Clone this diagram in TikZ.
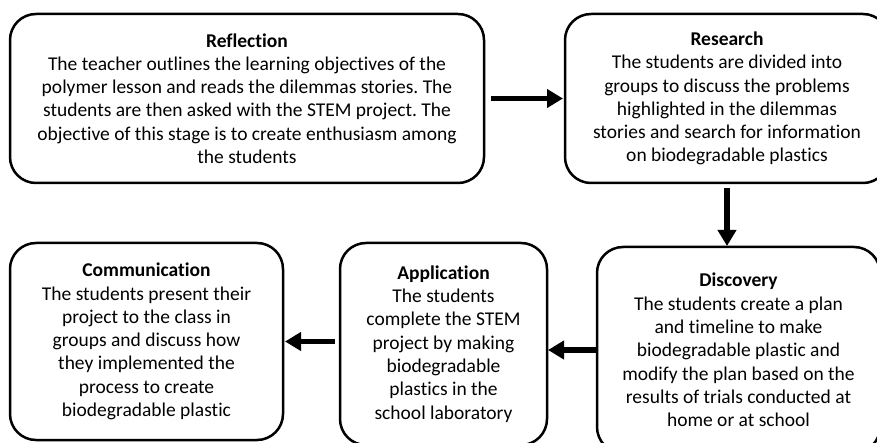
\documentclass[tikz,border=0pt]{standalone}
\usepackage{fontspec}
\setmainfont[Ligatures=NoCommon]{Carlito}
\frenchspacing
\usetikzlibrary{arrows.meta}
\begin{document}
\begin{tikzpicture}[x=1pt,y=-1pt,
  stage/.style={draw=black, fill=white, line width=2.5pt, rounded corners=26pt, inner sep=0pt, outer sep=0pt,
    align=center, text=black, font=\fontsize{19.5}{23.3}\selectfont},
  flow/.style={draw=black, line width=5.5pt, -{Triangle[length=16pt,width=18pt]}}]
\useasboundingbox (0,0) rectangle (877,443);
\fill[white] (0,0) rectangle (877,443);
\begin{scope}
\clip (0,0) rectangle (877,443);
\node[stage, minimum width=474pt, minimum height=169pt] (refl) at (247,98.5)
  {\textbf{Reflection}\\The teacher outlines the learning objectives of the\\polymer lesson and reads the dilemmas stories. The\\students are then asked with the STEM project. The\\objective of this stage is to create enthusiasm among\\the students};
\node[stage, minimum width=324pt, minimum height=169pt] (res) at (727,98.5)
  {\textbf{Research}\\The students are divided into\\groups to discuss the problems\\highlighted in the dilemmas\\stories and search for information\\on biodegradable plastics};
\node[stage, minimum width=283pt, minimum height=206pt] (disc) at (738.5,350)
  {\textbf{Discovery}\\The students create a plan\\and timeline to make\\biodegradable plastic and\\modify the plan based on the\\results of trials conducted at\\home or at school};
\node[stage, minimum width=207pt, minimum height=202pt] (app) at (443.5,344)
  {\textbf{Application}\\The students\\complete the STEM\\project by making\\biodegradable\\plastics in the\\school laboratory};
\node[stage, minimum width=273pt, minimum height=197pt] (comm) at (146.5,341.5)
  {\textbf{Communication}\\The students present their\\project to the class in\\groups and discuss how\\they implemented the\\process to create\\biodegradable plastic};
\draw[flow, shorten <=7pt, shorten >=2pt] (refl.east) -- (res.west);
\draw[flow, shorten <=5pt, shorten >=1pt] (res.south) -- (res.south |- disc.north);
\draw[flow, shorten >=1pt] (disc.west) -- (disc.west -| app.east);
\draw[flow, shorten <=5pt, shorten >=2pt] (app.west |- comm.east) -- (comm.east);
\end{scope}
\end{tikzpicture}
\end{document}
